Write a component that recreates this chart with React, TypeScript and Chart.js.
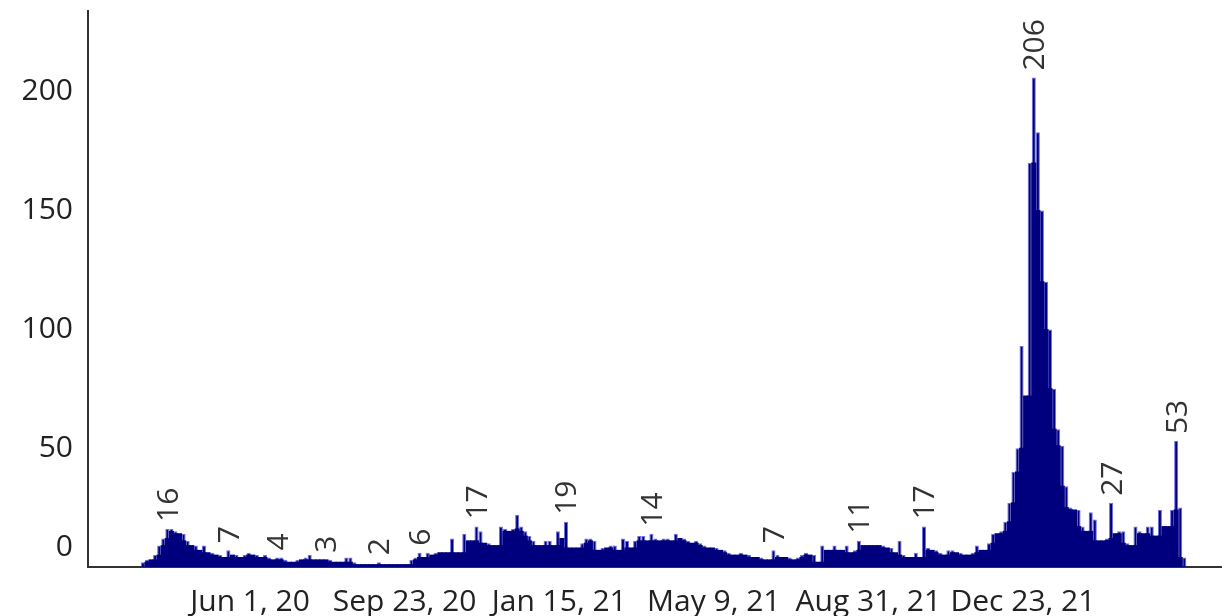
import React, { useEffect, useRef } from 'react';
import { Chart, registerables } from 'chart.js';

Chart.register(...registerables);

// First bar date and spacing between bars (days)
const firstDate = '2020-03-14';
const stepDays = 3;

// Bar values
const values: number[] = [
  2, 3, 3, 5, 9, 12, 16, 16, 15, 14, 14, 11, 9, 9, 7, 9, 6, 6, 5, 5,
  4, 7, 5, 5, 4, 5, 6, 5, 5, 4, 5, 4, 3, 4, 4, 3, 2, 2, 3, 3,
  4, 5, 3, 3, 3, 3, 3, 2, 2, 2, 4, 4, 2, 1, 1, 1, 1, 1, 2, 1,
  1, 1, 1, 1, 1, 1, 3, 4, 6, 4, 6, 5, 6, 6, 6, 6, 12, 6, 6, 14,
  11, 11, 17, 15, 10, 10, 9, 9, 17, 16, 15, 16, 22, 17, 15, 13, 11, 9, 9, 11,
  11, 9, 15, 12, 19, 8, 8, 8, 10, 12, 12, 11, 7, 8, 8, 9, 9, 7, 12, 11,
  8, 11, 13, 13, 11, 14, 12, 11, 12, 12, 11, 14, 12, 12, 11, 10, 11, 10, 9, 8,
  8, 8, 7, 7, 6, 5, 5, 6, 5, 5, 4, 4, 4, 3, 3, 7, 5, 4, 4, 4,
  3, 4, 5, 6, 5, 5, 2, 9, 7, 7, 9, 7, 7, 9, 6, 7, 11, 9, 9, 9,
  9, 9, 9, 8, 8, 6, 11, 5, 4, 4, 6, 4, 17, 8, 7, 7, 6, 5, 7, 7,
  6, 6, 5, 5, 6, 9, 7, 7, 10, 14, 14, 15, 19, 27, 40, 50, 93, 72, 170, 206,
  183, 150, 120, 100, 75, 58, 51, 34, 25, 24, 24, 17, 15, 23, 20, 11, 11, 12, 27, 14,
  15, 15, 10, 9, 17, 15, 14, 17, 17, 13, 24, 17, 17, 24, 53, 25, 4,
];

// Bars that carry a value label (index into values)
const labelIndices: number[] = [6, 21, 33, 45, 58, 68, 82, 104, 125, 155, 176, 192, 219, 238, 254];

// X axis tick dates and their labels
const tickDates: string[] = ['2020-06-01', '2020-09-23', '2021-01-15', '2021-05-09', '2021-08-31', '2021-12-23'];
const tickLabels: string[] = ['Jun 1, 20', 'Sep 23, 20', 'Jan 15, 21', 'May 9, 21', 'Aug 31, 21', 'Dec 23, 21'];

// Y axis ticks
const yTicks: number[] = [0, 50, 100, 150, 200];

const DAY = 86400000;
const dayOffset = (d: string) => Math.round((Date.parse(d) - Date.parse(firstDate)) / DAY);
const tickDays = tickDates.map(dayOffset);

const FONT = 'Open Sans';
const NAVY = '#00007f';
const LIGHT = '#6e6ee8';

const valueLabelPlugin = {
  id: 'valueLabels',
  afterDatasetsDraw(chart: any) {
    const meta = chart.getDatasetMeta(1);
    const ctx = chart.ctx as CanvasRenderingContext2D;
    ctx.save();
    ctx.font = `30px "${FONT}"`;
    ctx.fillStyle = '#333333';
    ctx.textAlign = 'left';
    ctx.textBaseline = 'alphabetic';
    labelIndices.forEach((i) => {
      const el = meta.data[i];
      if (!el) return;
      const { x, y } = el.getProps(['x', 'y'], true);
      ctx.save();
      ctx.translate(x, y - 7);
      ctx.rotate(-Math.PI / 2);
      ctx.fillText(String(values[i]), 0, 10.5);
      ctx.restore();
    });
    ctx.restore();
  },
};

export default function App() {
  const ref = useRef<HTMLCanvasElement>(null);

  useEffect(() => {
    document.body.style.margin = '0';
    const points = values.map((v, i) => ({ x: i * stepDays, y: v }));
    const cover = values.map((v, i) => ({
      x: i * stepDays,
      y: Math.min(v, i > 0 ? values[i - 1] : 0, i < values.length - 1 ? values[i + 1] : 0),
    }));

    const chart = new Chart(ref.current as HTMLCanvasElement, {
      type: 'bar',
      data: {
        datasets: [
          {
            label: 'cover',
            data: cover as any,
            backgroundColor: NAVY,
            borderWidth: 0,
            grouped: false,
            barPercentage: 1,
            categoryPercentage: 1,
            inflateAmount: 0.5,
          } as any,
          {
            label: 'count',
            data: points as any,
            backgroundColor: NAVY,
            borderColor: LIGHT,
            borderWidth: 1,
            grouped: false,
            barPercentage: 1,
            categoryPercentage: 1,
            inflateAmount: 0,
          } as any,
        ],
      },
      options: {
        responsive: false,
        animation: false,
        layout: { padding: { top: 11, left: 0, right: 0, bottom: 0 } },
        plugins: { legend: { display: false }, tooltip: { enabled: false }, title: { display: false } },
        scales: {
          x: {
            type: 'linear',
            offset: false,
            min: -40.5,
            max: 795.8,
            grid: { display: false, drawTicks: false, offset: false },
            border: { display: true, color: '#333333', width: 2 },
            afterBuildTicks: (s: any) => {
              s.ticks = tickDays.map((v) => ({ value: v }));
            },
            afterFit: (s: any) => {
              s.height = 49;
              s.paddingLeft = 0;
              s.paddingRight = 0;
              s.paddingTop = 0;
              s.paddingBottom = 0;
            },
            ticks: {
              autoSkip: false,
              maxRotation: 0,
              minRotation: 0,
              padding: 17,
              color: '#222222',
              font: { family: FONT, size: 30 },
              callback: (_v: any, i: number) => tickLabels[i],
            },
          },
          y: {
            type: 'linear',
            min: 0,
            max: 234,
            grid: { display: false, drawTicks: false },
            border: { display: true, color: '#333333', width: 2 },
            afterBuildTicks: (s: any) => {
              s.ticks = yTicks.map((v) => ({ value: v }));
            },
            afterFit: (s: any) => {
              s.width = 88;
              s.paddingLeft = 0;
              s.paddingRight = 0;
              s.paddingTop = 0;
              s.paddingBottom = 0;
            },
            ticks: {
              padding: 15,
              color: '#222222',
              font: { family: FONT, size: 30, lineHeight: 1.3 },
              callback: (v: any) => (v === 0 ? ['0', ''] : String(v)),
            },
          },
        },
      } as any,
      plugins: [valueLabelPlugin],
    });
    return () => chart.destroy();
  }, []);

  return (
    <div style={{ position: 'absolute', left: 0, top: 0, width: 1222, height: 616 }}>
      <canvas ref={ref} width={1222} height={616} style={{ display: 'block' }} />
    </div>
  );
}
